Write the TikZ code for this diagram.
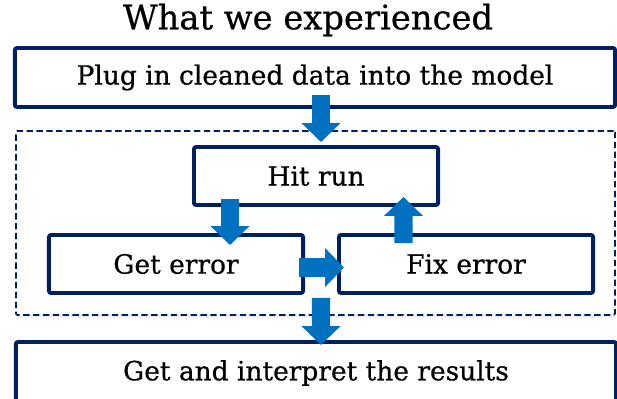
\documentclass[tikz,border=0pt]{standalone}
\usepackage{fontspec}
\setmainfont[FakeBold=0.6]{DejaVu Serif}
\usepackage{xcolor}
\definecolor{expnavy}{RGB}{0,32,96}
\definecolor{expblue}{RGB}{0,112,192}
\usepackage{tikz}
\usetikzlibrary{arrows.meta, positioning, calc, shadows}

\tikzset{
  stepbox/.style={draw=expnavy, line width=2.8pt, rounded corners=1.5pt, fill=white,
    minimum height=1.45cm, inner sep=0pt, font=\fontsize{18.8}{22}\selectfont},
  loopbox/.style={draw=expnavy, line width=1.2pt, dash pattern=on 4.5pt off 2.5pt,
    rounded corners=1pt, fill=white, inner sep=0pt,
    drop shadow={opacity=0.12, shadow xshift=0pt, shadow yshift=-2pt}},
  bigarrow/.style={draw=expblue, line width=13pt, -{Triangle[width=27pt,length=13.5pt]}},
}

\begin{document}
\begin{tikzpicture}[x=0.025cm, y=-0.025cm]
  \useasboundingbox (0,0) rectangle (617,399);

  % Title
  \node[font=\fontsize{24}{28}\selectfont] (title) at (308,20) {What we experienced};

  % --- Outer steps ---
  \node[stepbox, minimum width=15cm, minimum height=1.475cm] (plug) at (315,77.5)
    {Plug in cleaned data into the model};
  \node[stepbox, minimum width=15cm, minimum height=1.55cm] (results) at (316,373)
    {Get and interpret the results};

  % --- Trial and error loop ---
  \node[loopbox, minimum width=14.975cm, minimum height=4.6cm] (loop) at (315.5,223) {};
  \node[stepbox, minimum width=6.1cm] (hit) at (316,176) {Hit run};
  \node[stepbox, minimum width=6.35cm] (geterr) at (176,264) {Get error};
  \node[stepbox, minimum width=6.35cm] (fixerr) at (466,264) {Fix error};

  % Block arrows
  \draw[bigarrow] ($(plug.south)+(6,-14)$) -- ($(hit.north)+(5,-3)$);
  \draw[bigarrow] ($(hit.south)+(-86,-8)$) -- ($(geterr.north)+(54,12)$);
  \draw[bigarrow] ($(geterr.east)+(-6,3.5)$) -- ($(fixerr.west)+(7,3.5)$);
  \draw[bigarrow] ($(fixerr.north)+(-62.5,10)$) -- ($(hit.south)+(87.5,-10)$);
  \draw[bigarrow] ($(loop.south)+(5.5,-18)$) -- ($(results.north)+(5,5)$);
\end{tikzpicture}
\end{document}
